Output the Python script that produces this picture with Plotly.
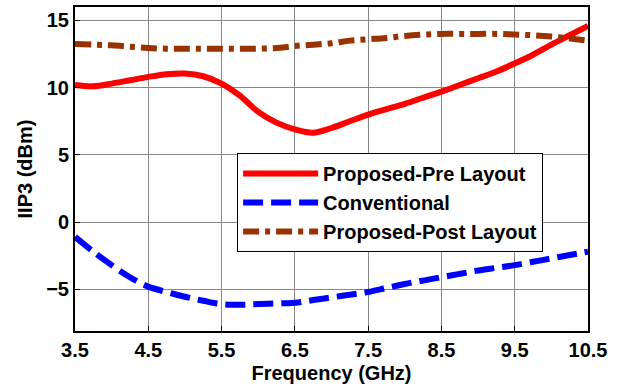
import plotly.graph_objects as go

freq = [3.5, 3.75, 4.0, 4.25, 4.5, 4.75, 5.0, 5.25, 5.5, 5.75, 6.0, 6.25, 6.5, 6.75, 7.0, 7.25, 7.5, 7.75, 8.0, 8.25, 8.5, 8.75, 9.0, 9.25, 9.5, 9.75, 10.0, 10.25, 10.5]
pre_layout = [10.2, 10.1, 10.3, 10.55, 10.8, 11.0, 11.05, 10.85, 10.3, 9.4, 8.2, 7.4, 6.9, 6.65, 7.0, 7.5, 8.0, 8.4, 8.8, 9.25, 9.7, 10.2, 10.7, 11.2, 11.8, 12.45, 13.2, 13.9, 14.6]
conventional = [-1.1, -2.2, -3.2, -4.1, -4.8, -5.2, -5.55, -5.85, -6.1, -6.15, -6.1, -6.05, -6.0, -5.8, -5.6, -5.4, -5.2, -4.9, -4.6, -4.35, -4.1, -3.85, -3.6, -3.4, -3.2, -2.95, -2.7, -2.45, -2.2]
post_layout = [13.25, 13.2, 13.15, 13.05, 12.95, 12.9, 12.9, 12.9, 12.9, 12.9, 12.9, 12.95, 13.1, 13.2, 13.3, 13.5, 13.6, 13.7, 13.85, 13.95, 14.0, 14.0, 14.0, 14.0, 13.95, 13.9, 13.8, 13.65, 13.5]

names = ["Proposed-Pre Layout", "Conventional", "Proposed-Post Layout"]
x_ticks = [3.5, 4.5, 5.5, 6.5, 7.5, 8.5, 9.5, 10.5]
y_ticks = [-5, 0, 5, 10, 15]

fig = go.Figure()
fig.add_trace(go.Scatter(x=freq, y=pre_layout, mode="lines", name=names[0],
                         line=dict(color="#FF0000", width=6, shape="spline")))
fig.add_trace(go.Scatter(x=freq, y=conventional, mode="lines", name=names[1],
                         line=dict(color="#0000FF", width=6, dash="20px,8px", shape="spline")))
fig.add_trace(go.Scatter(x=freq, y=post_layout, mode="lines", name=names[2],
                         line=dict(color="#993300", width=6, dash="16px,6px,5px,6px", shape="spline")))

axis_font = dict(family="Liberation Sans, Arial", size=20, color="black", weight="bold")
fig.update_layout(
    width=627, height=392,
    margin=dict(l=75, r=39, t=5, b=61),
    paper_bgcolor="white", plot_bgcolor="white",
    font=dict(family="Liberation Sans, Arial", color="black"),
    legend=dict(x=0.316, y=0.549, xanchor="left", yanchor="top",
                bordercolor="black", borderwidth=1, bgcolor="white",
                font=dict(family="Liberation Sans, Arial", size=20, color="black", weight="bold"),
                tracegroupgap=0, itemwidth=75),
    xaxis=dict(range=[3.5, 10.5], tickvals=x_ticks, ticktext=[f"{v:.1f}" for v in x_ticks],
               showgrid=True, gridcolor="#888888", gridwidth=1,
               showline=True, linecolor="black", linewidth=2, mirror=True,
               ticks="inside", ticklen=5, tickcolor="black",
               tickfont=axis_font, zeroline=False,
               title=dict(text="Frequency (GHz)", font=axis_font, standoff=6)),
    yaxis=dict(range=[-8.1, 16], tickvals=y_ticks,
               showgrid=True, gridcolor="#888888", gridwidth=1,
               showline=True, linecolor="black", linewidth=2, mirror=True,
               ticks="inside", ticklen=5, tickcolor="black",
               tickfont=axis_font, zeroline=False,
               title=dict(text="IIP3 (dBm)", font=axis_font, standoff=8)),
)

fig.write_html("out.html")
